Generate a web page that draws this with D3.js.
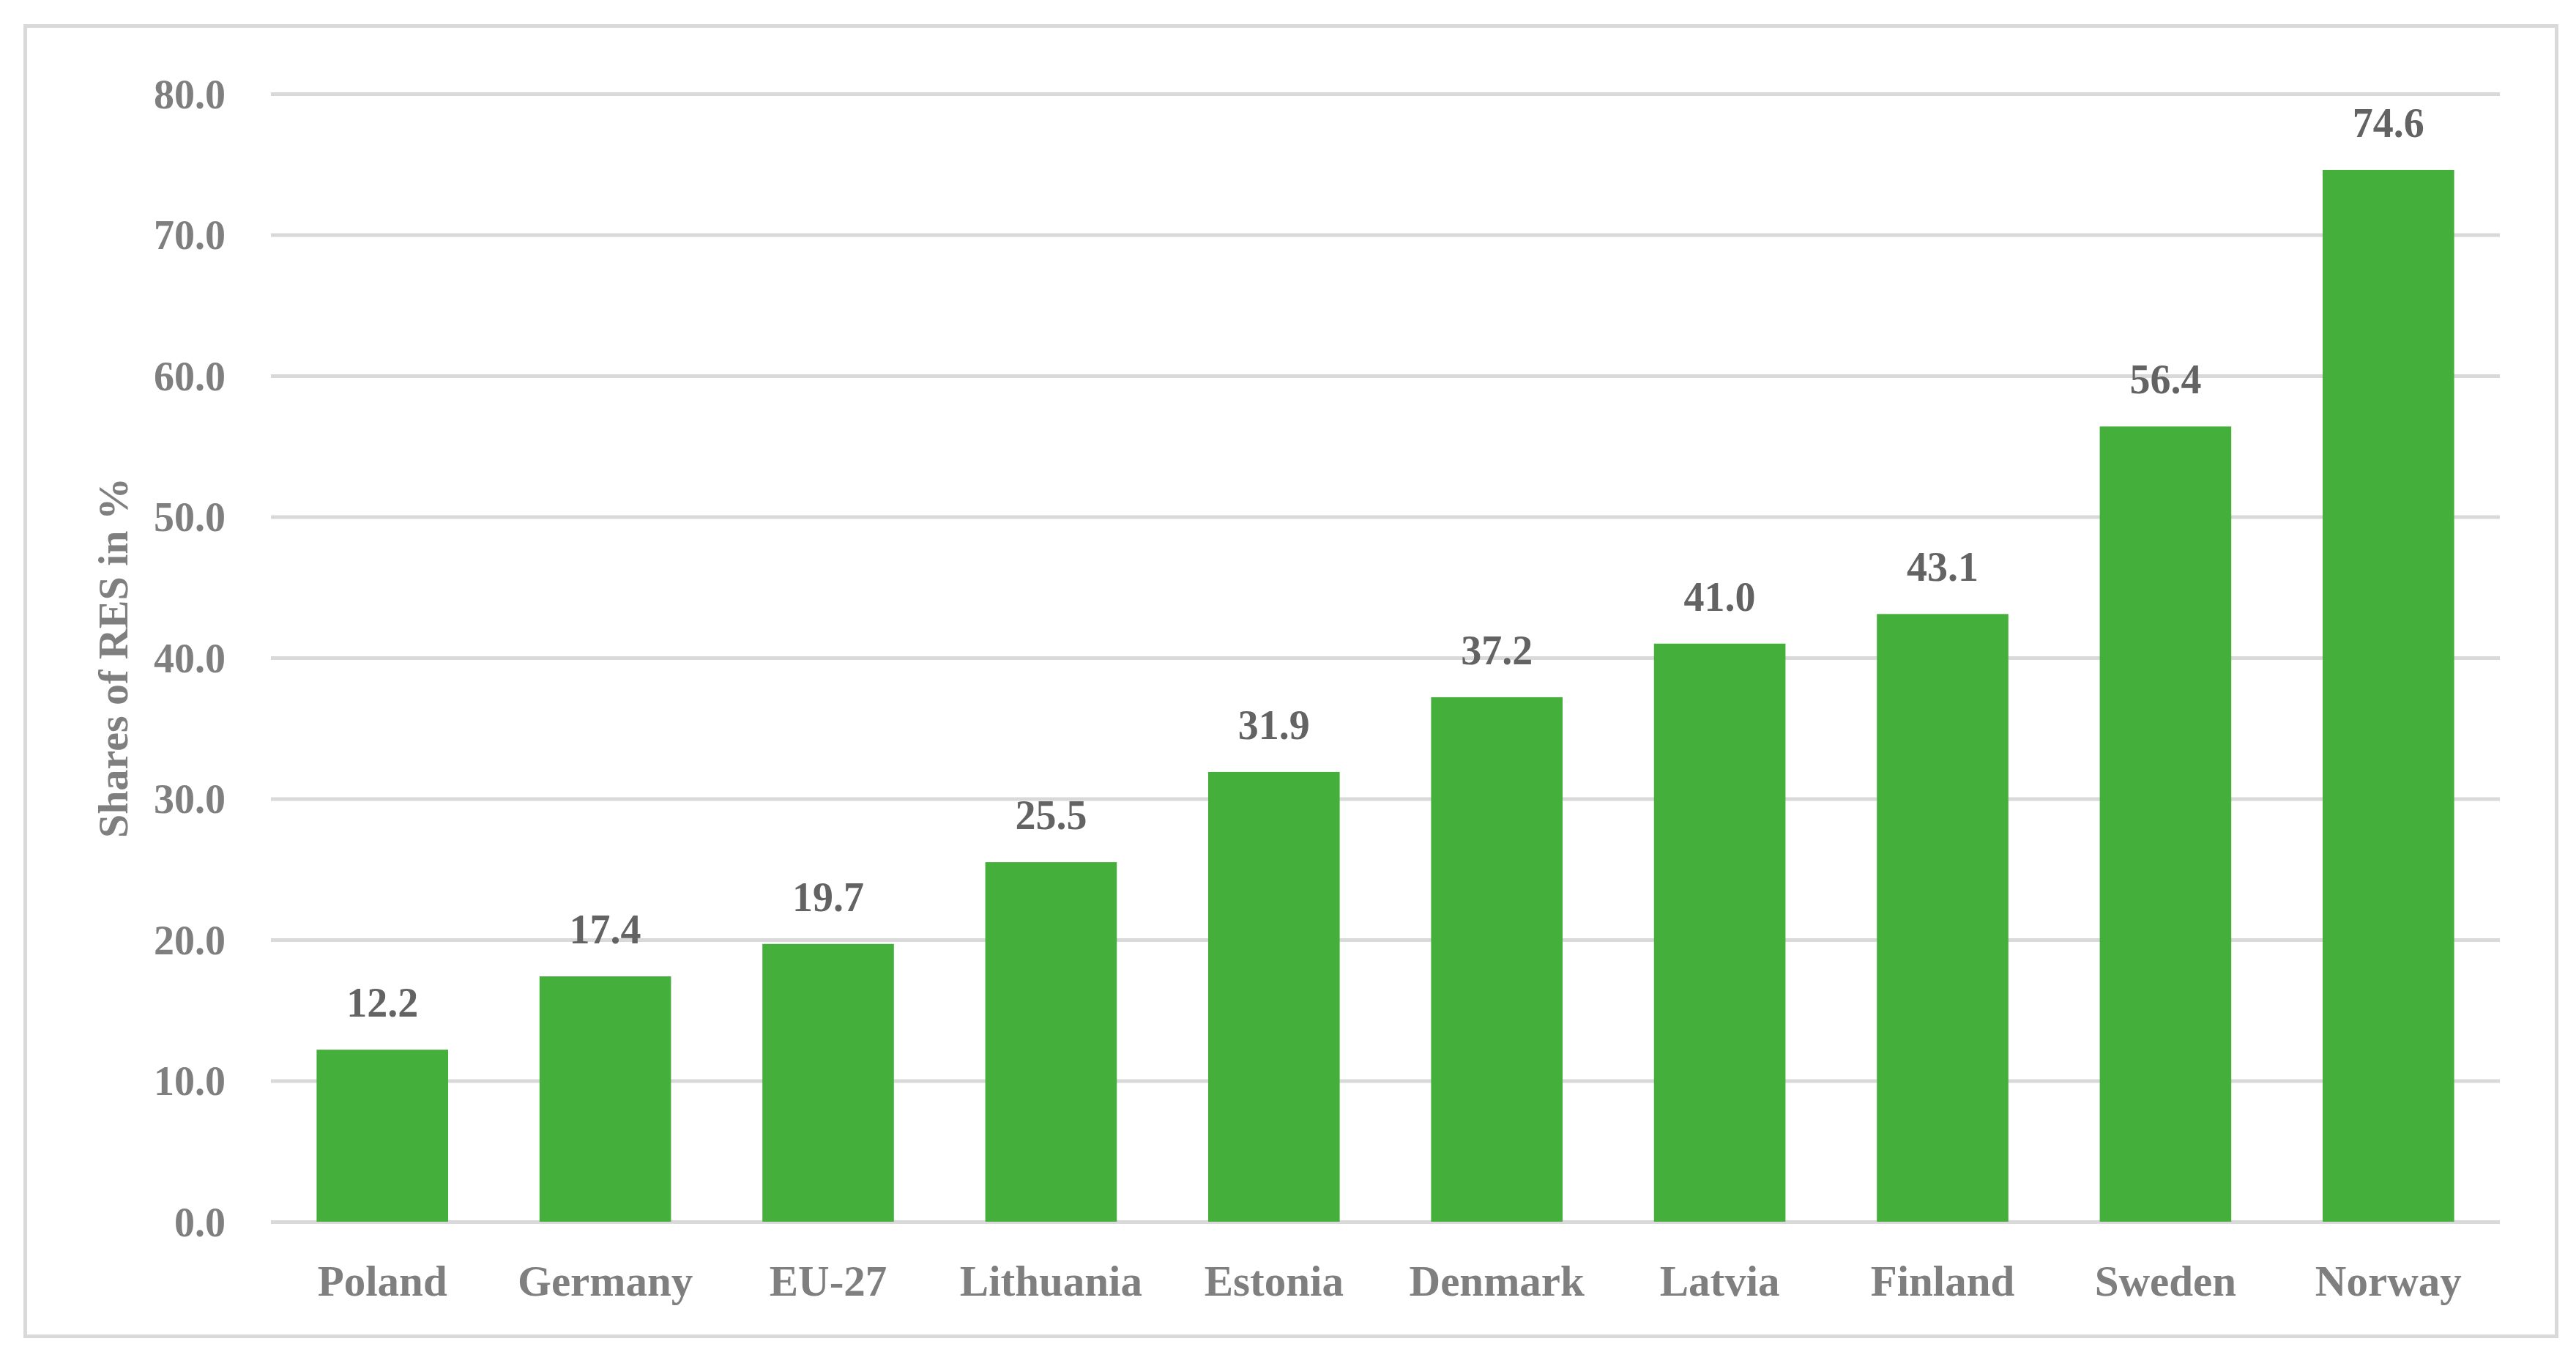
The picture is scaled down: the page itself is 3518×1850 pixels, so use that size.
<!DOCTYPE html>
<html>
<head>
<meta charset="utf-8">
<script src="https://cdn.jsdelivr.net/npm/d3@7"></script>
<style>
	html, body { margin: 0; padding: 0; background: #fff; }
	svg { display: block; }
	text { font-family: "Liberation Serif", "DejaVu Serif", serif; font-weight: bold; }
</style>
</head>
<body>
<svg id="chart"></svg>
<script>
const countries = ["Poland", "Germany", "EU-27", "Lithuania", "Estonia", "Denmark", "Latvia", "Finland", "Sweden", "Norway"];
const shares = [12.2, 17.4, 19.7, 25.5, 31.9, 37.2, 41.0, 43.1, 56.4, 74.6];
const yTicks = [0, 10, 20, 30, 40, 50, 60, 70, 80];

const width = 3518;
const height = 1850;
const plot = { left: 370, right: 3414, top: 128, bottom: 1668 };

const svg = d3.select("#chart")
	.attr("width", width)
	.attr("height", height);

// outer frame
svg.append("rect")
	.attr("x", 34.5)
	.attr("y", 35.5)
	.attr("width", 3457)
	.attr("height", 1789)
	.attr("fill", "#fff")
	.attr("stroke", "#d9d9d9")
	.attr("stroke-width", 5);

const x = d3.scaleBand()
	.domain(countries)
	.range([plot.left, plot.right])
	.paddingInner(0.41)
	.paddingOuter(0.205);

const y = d3.scaleLinear()
	.domain([0, 80])
	.range([plot.bottom, plot.top]);

// gridlines + y labels
const yAxis = svg.append("g")
	.attr("transform", `translate(${plot.left},0)`)
	.call(d3.axisLeft(y)
		.tickValues(yTicks)
		.tickSize(-(plot.right - plot.left))
		.tickPadding(62)
		.tickFormat(d3.format(".1f")));

yAxis.select(".domain").remove();
yAxis.selectAll(".tick line")
	.attr("stroke", "#d9d9d9")
	.attr("stroke-width", 5);
yAxis.selectAll(".tick text")
	.attr("fill", "#7f7f7f")
	.attr("font-size", 56)
	.attr("dy", "0.34em");

// bars
svg.append("g")
	.selectAll("rect")
	.data(countries)
	.join("rect")
	.attr("x", (d) => x(d))
	.attr("y", (d, i) => y(shares[i]))
	.attr("width", x.bandwidth())
	.attr("height", (d, i) => y(0) - y(shares[i]))
	.attr("fill", "#45af3c");

// value labels
svg.append("g")
	.selectAll("text")
	.data(countries)
	.join("text")
	.attr("x", (d) => x(d) + x.bandwidth() / 2)
	.attr("y", (d, i) => y(shares[i]) - 45)
	.attr("text-anchor", "middle")
	.attr("font-size", 56)
	.attr("fill", "#636363")
	.text((d, i) => d3.format(".1f")(shares[i]));

// category labels
const xAxis = svg.append("g")
	.attr("transform", `translate(0,${plot.bottom})`)
	.call(d3.axisBottom(x).tickSize(0).tickPadding(0));

xAxis.select(".domain").remove();
xAxis.selectAll(".tick text")
	.attr("y", 101)
	.attr("dy", 0)
	.attr("fill", "#7f7f7f")
	.attr("font-size", 59);

// y title
svg.append("text")
	.attr("transform", `translate(174, ${(plot.top + plot.bottom) / 2}) rotate(-90)`)
	.attr("text-anchor", "middle")
	.attr("font-size", 58)
	.attr("fill", "#7f7f7f")
	.text("Shares of RES in %");
</script>
</body>
</html>
